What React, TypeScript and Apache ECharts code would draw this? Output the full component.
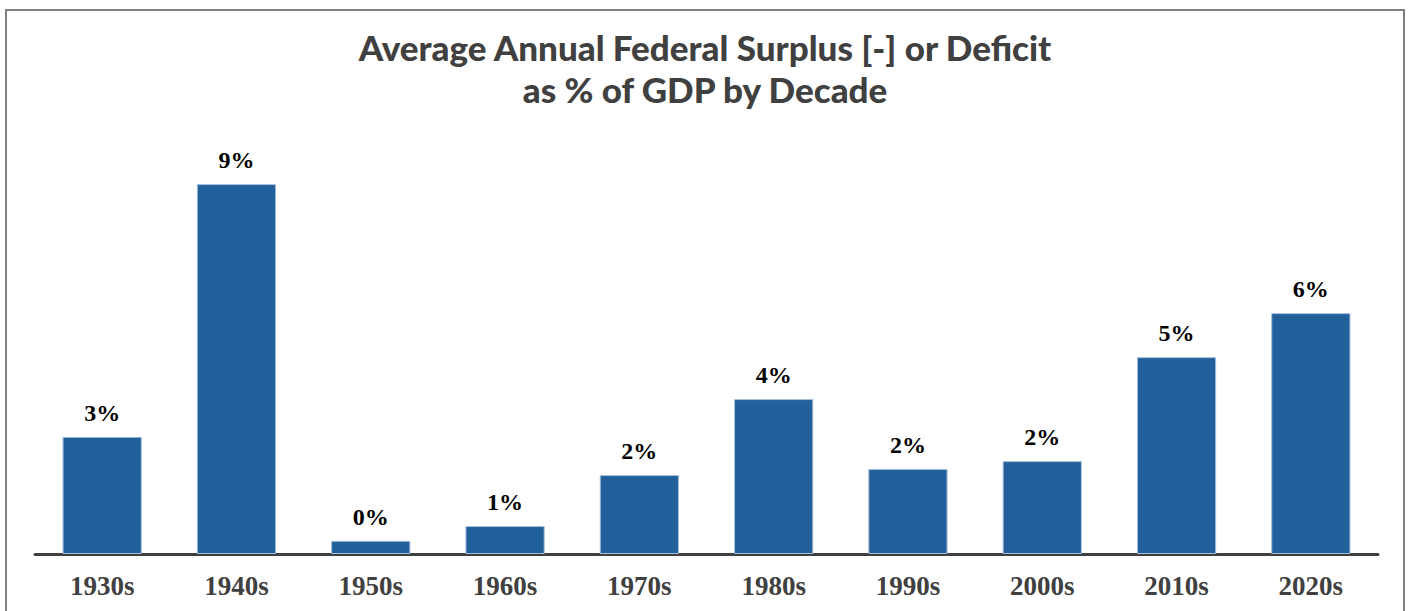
import React, { useEffect, useRef } from "react";
import * as echarts from "echarts";

const decades = ["1930s", "1940s", "1950s", "1960s", "1970s", "1980s", "1990s", "2000s", "2010s", "2020s"];
const deficitPct = [2.85, 9.0, 0.32, 0.68, 1.92, 3.77, 2.07, 2.26, 4.79, 5.86];
const titleText = "Average Annual Federal Surplus [-] or Deficit\nas % of GDP by Decade";

export default function App() {
  const ref = useRef<HTMLDivElement>(null);
  useEffect(() => {
    const chart = echarts.init(ref.current!, undefined, { renderer: "svg" });
    chart.setOption({
      animation: false,
      backgroundColor: "#ffffff",
      title: {
        text: titleText,
        left: "center",
        top: 21,
        padding: 5,
        textStyle: {
          fontFamily: "Lato",
          fontWeight: 900,
          fontSize: 35,
          lineHeight: 42,
          color: "#404040",
        },
      },
      graphic: [
        {
          type: "rect",
          shape: { x: 6, y: 10, width: 1398, height: 700 },
          style: { fill: "none", stroke: "#808080", lineWidth: 2 },
          silent: true,
        },
      ],
      grid: { left: 35, right: 32, top: 143, height: 411, containLabel: false },
      xAxis: {
        type: "category",
        data: decades,
        axisLine: { show: true, lineStyle: { color: "#404040", width: 3 } },
        axisTick: { show: false },
        axisLabel: {
          margin: 18,
          fontFamily: "Liberation Serif",
          fontWeight: "bold",
          fontSize: 27,
          color: "#404040",
        },
      },
      yAxis: {
        type: "value",
        min: 0,
        max: 10,
        show: false,
        splitLine: { show: false },
      },
      series: [
        {
          type: "bar",
          data: deficitPct,
          barCategoryGap: "41%",
          itemStyle: { color: "#22609b", borderColor: "#a6bedc", borderWidth: 1 },
          label: {
            show: true,
            position: "top",
            distance: 12,
            formatter: (p: any) => Math.round(p.value) + "%",
            fontFamily: "Liberation Serif",
            fontWeight: "bold",
            fontSize: 24,
            color: "#000000",
          },
        },
      ],
    });
    return () => chart.dispose();
  }, []);
  return (
    <div
      ref={ref}
      style={{ position: "fixed", left: 0, top: 0, width: 1410, height: 611 }}
    />
  );
}
